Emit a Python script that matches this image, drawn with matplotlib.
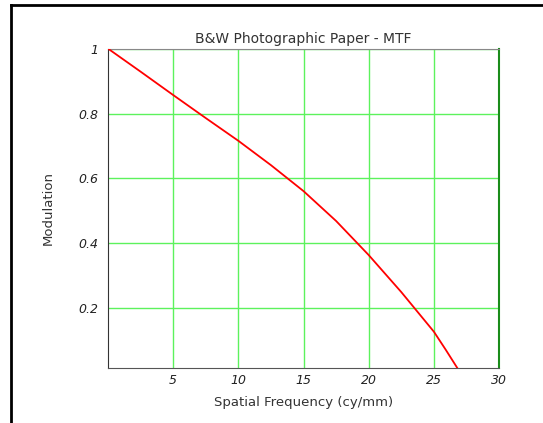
import matplotlib
matplotlib.use('Agg')
from matplotlib import pyplot as plt
from matplotlib.lines import Line2D

# MTF
freq = [0, 2.5, 5, 7.5, 10, 12.5, 15, 17.5, 20, 22.5, 25, 25.9, 26.8]
mtf = [1.0, 0.929, 0.857, 0.786, 0.716, 0.641, 0.561, 0.469, 0.364,
       0.250, 0.128, 0.073, 0.016]

x_ticks = [5, 10, 15, 20, 25, 30]
y_ticks = [0.2, 0.4, 0.6, 0.8, 1]
y_tick_labels = ['0.2', '0.4', '0.6', '0.8', '1']

fig = plt.figure(figsize=(5.43, 4.23), dpi=100)
ax = fig.add_axes([0.199, 0.130, 0.720, 0.755])

# outer frame (top and left edges only are visible)
fig.add_artist(Line2D([11 / 543, 11 / 543], [0, 1 - 5 / 423],
                      color='black', lw=2, transform=fig.transFigure))
fig.add_artist(Line2D([11 / 543, 1], [1 - 5 / 423, 1 - 5 / 423],
                      color='black', lw=2, transform=fig.transFigure))

ax.plot(freq, mtf, color='red', lw=1.3, zorder=3)

ax.set_xlim(0, 30)
ax.set_ylim(0.016, 1)
ax.set_xticks(x_ticks)
ax.set_yticks(y_ticks)
ax.set_yticklabels(y_tick_labels)
ax.grid(True, color='#5cf25c', lw=1)
ax.tick_params(length=0, labelsize=9, labelcolor='#222222')
ax.tick_params(axis='y', pad=7)
ax.tick_params(axis='x', pad=4)
for lab in ax.get_xticklabels() + ax.get_yticklabels():
    lab.set_fontstyle('italic')

ax.spines['left'].set_color('#333333')
ax.spines['bottom'].set_color('#555555')
ax.spines['top'].set_color('#888888')
ax.spines['right'].set_color('#1a8c1a')
ax.spines['right'].set_linewidth(1.5)

ax.set_title('B&W Photographic Paper - MTF', fontsize=10, color='#333333', pad=4)
ax.set_xlabel('Spatial Frequency (cy/mm)', fontsize=9.5, color='#333333', labelpad=7)
ax.set_ylabel('Modulation', fontsize=9.5, color='#333333', labelpad=17)

plt.savefig('out.png')
